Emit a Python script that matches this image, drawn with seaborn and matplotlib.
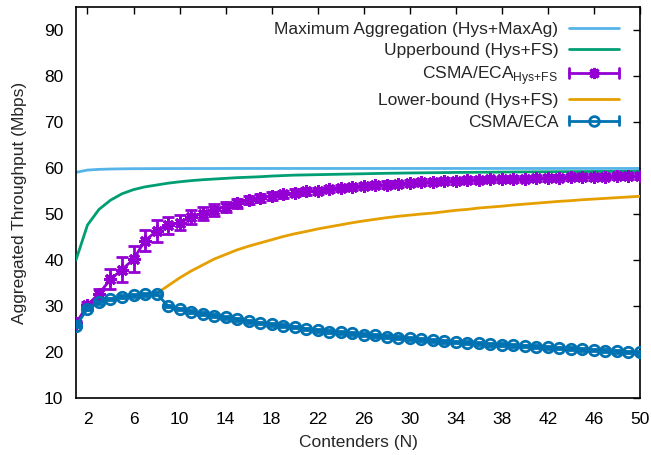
import matplotlib
matplotlib.use("Agg")
import matplotlib.pyplot as plt
import seaborn as sns
import pandas as pd
from matplotlib.legend_handler import HandlerBase
from matplotlib.lines import Line2D

# ---- data -----------------------------------------------------------------
contenders = list(range(1, 51))

max_aggregation = [
    59.05, 59.55, 59.70, 59.78, 59.82, 59.85, 59.86, 59.87, 59.88, 59.88,
    59.89, 59.89, 59.89, 59.90, 59.90, 59.90, 59.90, 59.90, 59.90, 59.90,
    59.90, 59.90, 59.90, 59.90, 59.90, 59.90, 59.90, 59.90, 59.90, 59.90,
    59.90, 59.90, 59.90, 59.90, 59.90, 59.90, 59.90, 59.90, 59.90, 59.90,
    59.90, 59.90, 59.90, 59.90, 59.90, 59.90, 59.90, 59.90, 59.90, 59.90,
]

upper_bound = [
    40.00, 47.60, 51.00, 53.00, 54.40, 55.30, 55.90, 56.30, 56.70, 57.00,
    57.25, 57.45, 57.60, 57.75, 57.90, 58.00, 58.10, 58.25, 58.35, 58.45,
    58.50, 58.55, 58.60, 58.65, 58.70, 58.75, 58.80, 58.85, 58.88, 58.92,
    58.95, 58.98, 59.00, 59.03, 59.05, 59.07, 59.09, 59.11, 59.13, 59.15,
    59.17, 59.18, 59.20, 59.21, 59.22, 59.24, 59.25, 59.26, 59.27, 59.28,
]

eca_fs = [
    26.2, 30.2, 32.7, 35.8, 37.9, 40.2, 44.2, 46.3, 47.5, 48.1,
    49.3, 50.1, 50.9, 51.6, 52.3, 53.0, 53.5, 53.9, 54.3, 54.6,
    54.9, 55.0, 55.4, 55.6, 55.9, 56.1, 56.3, 56.4, 56.6, 56.7,
    56.9, 57.0, 57.1, 57.2, 57.3, 57.4, 57.5, 57.55, 57.6, 57.7,
    57.75, 57.8, 57.9, 57.95, 58.0, 58.05, 58.1, 58.2, 58.25, 58.3,
]
eca_fs_err = [
    0.6, 0.7, 1.1, 2.2, 2.7, 2.9, 2.35, 2.3, 1.8, 1.6,
    1.5, 1.4, 1.25, 1.1, 1.0, 0.9, 0.85, 0.8, 0.8, 0.75,
    0.75, 0.75, 0.7, 0.7, 0.7, 0.7, 0.7, 0.7, 0.65, 0.65,
    0.65, 0.65, 0.65, 0.65, 0.65, 0.6, 0.6, 0.6, 0.6, 0.6,
    0.6, 0.6, 0.6, 0.6, 0.6, 0.6, 0.6, 0.6, 0.6, 0.6,
]

lower_n = list(range(8, 51))
lower_bound = [
    32.7, 34.4, 36.1, 37.6, 38.9, 40.2, 41.2, 42.2, 43.0, 43.7,
    44.4, 45.1, 45.7, 46.2, 46.75, 47.2, 47.65, 48.1, 48.5, 48.85,
    49.2, 49.5, 49.75, 50.0, 50.2, 50.5, 50.8, 51.0, 51.3, 51.5,
    51.7, 51.95, 52.15, 52.35, 52.55, 52.75, 52.9, 53.1, 53.25, 53.4,
    53.55, 53.7, 53.85,
]

eca = [
    25.7, 29.4, 30.8, 31.5, 32.0, 32.3, 32.5, 32.7, 30.0, 29.35,
    28.8, 28.3, 27.9, 27.5, 27.1, 26.7, 26.3, 26.0, 25.7, 25.45,
    25.0, 24.75, 24.45, 24.25, 24.05, 23.8, 23.6, 23.35, 23.15, 22.95,
    22.75, 22.55, 22.35, 22.15, 22.0, 21.85, 21.7, 21.6, 21.45, 21.3,
    21.15, 21.0, 20.85, 20.7, 20.6, 20.45, 20.3, 20.15, 20.0, 19.9,
]
eca_err = [
    0.3, 0.3, 0.3, 0.3, 0.3, 0.3, 0.3, 0.3, 0.3, 0.3,
    0.3, 0.3, 0.3, 0.3, 0.3, 0.3, 0.3, 0.3, 0.3, 0.3,
    0.3, 0.3, 0.3, 0.3, 0.3, 0.3, 0.3, 0.3, 0.3, 0.3,
    0.3, 0.3, 0.3, 0.3, 0.3, 0.3, 0.3, 0.3, 0.3, 0.3,
    0.3, 0.3, 0.3, 0.3, 0.3, 0.3, 0.3, 0.3, 0.3, 0.3,
]

x_ticks = list(range(2, 51, 4))
y_ticks = list(range(10, 91, 10))

# ---- style ----------------------------------------------------------------
sns.set_style("white")
plt.rcParams["font.family"] = ["Liberation Sans", "DejaVu Sans"]
plt.rcParams["mathtext.fontset"] = "custom"
plt.rcParams["mathtext.rm"] = "Liberation Sans"
FS = 12.5
plt.rcParams["font.size"] = FS

C_MAX = "#56b4e9"
C_UP = "#009e73"
C_FS = "#9400d3"
C_LOW = "#e69f00"
C_ECA = "#0072b2"
LW = 2.0

fig = plt.figure(figsize=(6.51, 4.55), dpi=100)
ax = fig.add_axes([0.1167, 0.1253, 0.8663, 0.8593])

df = pd.DataFrame({
    "N": contenders,
    "max_agg": max_aggregation,
    "upper": upper_bound,
    "eca_fs": eca_fs,
    "eca": eca,
})
df_low = pd.DataFrame({"N": lower_n, "lower": lower_bound})

sns.lineplot(data=df, x="N", y="max_agg", ax=ax, color=C_MAX, lw=LW,
             errorbar=None, zorder=2)
sns.lineplot(data=df, x="N", y="upper", ax=ax, color=C_UP, lw=LW,
             errorbar=None, zorder=3)

ax.errorbar(contenders, eca_fs, yerr=eca_fs_err, fmt="none", ecolor=C_FS,
            elinewidth=LW, capsize=4, capthick=LW, zorder=4)
sns.lineplot(data=df, x="N", y="eca_fs", ax=ax, color=C_FS, lw=LW,
             marker=(8, 2, 0), markersize=9, markeredgewidth=2.2,
             markeredgecolor=C_FS, errorbar=None, zorder=4)

sns.lineplot(data=df_low, x="N", y="lower", ax=ax, color=C_LOW, lw=LW,
             errorbar=None, zorder=5)

ax.errorbar(contenders, eca, yerr=eca_err, fmt="none", ecolor=C_ECA,
            elinewidth=LW, capsize=4, capthick=LW, zorder=6)
sns.lineplot(data=df, x="N", y="eca", ax=ax, color=C_ECA, lw=LW,
             marker="o", markersize=7.5, markerfacecolor="none",
             markeredgewidth=2.0, markeredgecolor=C_ECA,
             errorbar=None, zorder=6)

# ---- axes -----------------------------------------------------------------
ax.set_xlim(1, 50)
ax.set_ylim(10, 95)
ax.set_xticks(x_ticks)
ax.set_yticks(y_ticks)
ax.tick_params(direction="in", length=5, width=1.0, top=True, right=True,
               labelsize=FS, colors="black")
ax.tick_params(axis="y", pad=9)
ax.tick_params(axis="x", pad=10)
for s in ax.spines.values():
    s.set_linewidth(1.2)
    s.set_color("black")
ax.set_xlabel("Contenders (N)", fontsize=FS, labelpad=6)
ax.set_ylabel("Aggregated Throughput (Mbps)", fontsize=FS, labelpad=12)


# ---- legend: line with end caps and a centred marker ------------------------
class CappedHandler(HandlerBase):
    def __init__(self, capped=False):
        super().__init__()
        self.capped = capped

    def create_artists(self, legend, orig, xd, yd, w, h, fs, trans):
        y = h / 2 - yd
        x0, x1 = -xd, w - xd
        col = orig.get_color()
        arts = [Line2D([x0, x1], [y, y], color=col, lw=LW)]
        if self.capped:
            c = 0.28 * fs
            arts.append(Line2D([x0, x0], [y - c, y + c], color=col, lw=LW))
            arts.append(Line2D([x1, x1], [y - c, y + c], color=col, lw=LW))
        m = orig.get_marker()
        if m not in (None, "None", ""):
            arts.append(Line2D([(x0 + x1) / 2], [y], marker=m, ls="none",
                               markersize=orig.get_markersize(),
                               markeredgewidth=orig.get_markeredgewidth(),
                               markerfacecolor=orig.get_markerfacecolor(),
                               markeredgecolor=col))
        for a in arts:
            a.set_transform(trans)
        return arts


h_max = Line2D([], [], color=C_MAX)
h_up = Line2D([], [], color=C_UP)
h_fs = Line2D([], [], color=C_FS, marker=(8, 2, 0), markersize=8,
              markeredgewidth=2.2)
h_low = Line2D([], [], color=C_LOW)
h_eca = Line2D([], [], color=C_ECA, marker="o", markersize=7,
               markerfacecolor="none", markeredgewidth=2.0)

labels = [
    "Maximum Aggregation (Hys+MaxAg)",
    "Upperbound (Hys+FS)",
    r"CSMA/ECA$_{\mathrm{Hys{+}FS}}$",
    "Lower-bound (Hys+FS)",
    "CSMA/ECA",
]
ax.legend(
    [h_max, h_up, h_fs, h_low, h_eca], labels,
    handler_map={
        h_max: CappedHandler(), h_up: CappedHandler(),
        h_fs: CappedHandler(True), h_low: CappedHandler(),
        h_eca: CappedHandler(True),
    },
    loc="upper right", bbox_to_anchor=(0.963, 0.962), frameon=False,
    markerfirst=False, fontsize=FS, handlelength=2.9, handletextpad=0.6,
    labelspacing=0.35, borderpad=0, borderaxespad=0,
)

fig.savefig("out.png", dpi=100)
